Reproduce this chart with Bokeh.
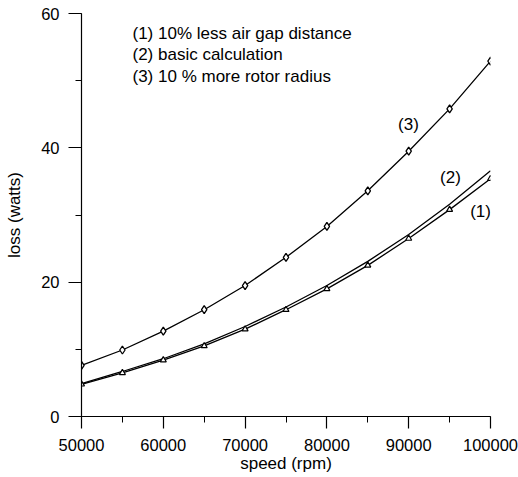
from bokeh.plotting import figure
from bokeh.models import SingleIntervalTicker, Range1d, Label, BasicTickFormatter
from bokeh.embed import file_html
from bokeh.resources import INLINE

# ---- data ----
speed = [50000, 55000, 60000, 65000, 70000, 75000, 80000, 85000, 90000, 95000, 100000]
loss_1 = [4.8, 6.5, 8.4, 10.5, 13.0, 15.9, 19.0, 22.5, 26.5, 30.8, 35.4]   # 10% less air gap distance
loss_2 = [4.9, 6.7, 8.6, 10.8, 13.4, 16.3, 19.5, 23.1, 27.1, 31.6, 36.6]   # basic calculation
loss_3 = [7.6, 9.9, 12.7, 15.9, 19.5, 23.7, 28.3, 33.6, 39.5, 45.8, 52.9]  # 10 % more rotor radius

legend_lines = ["(1)  10% less air gap distance",
                "(2)  basic calculation",
                "(3)  10 % more rotor radius"]
curve_tags = ["(1)", "(2)", "(3)"]

FONT = "Liberation Sans"

p = figure(width=518, height=477, output_backend="svg", toolbar_location=None,
           x_range=Range1d(50000, 100000), y_range=Range1d(0, 60),
           min_border_left=81, min_border_right=28, min_border_top=13, min_border_bottom=61)
p.outline_line_color = None
p.xgrid.visible = False
p.ygrid.visible = False
p.background_fill_color = "white"
p.border_fill_color = "white"

p.xaxis.ticker = SingleIntervalTicker(interval=10000, num_minor_ticks=2)
p.yaxis.ticker = SingleIntervalTicker(interval=20, num_minor_ticks=2)
p.xaxis.formatter = BasicTickFormatter(use_scientific=False)

for ax in (p.xaxis, p.yaxis):
    ax.axis_line_color = "black"
    ax.axis_line_width = 1.2
    ax.major_tick_line_color = "black"
    ax.minor_tick_line_color = "black"
    ax.major_tick_line_width = 1.2
    ax.minor_tick_line_width = 1
    ax.major_tick_in = 0
    ax.minor_tick_in = 0
    ax.major_label_text_font = FONT
    ax.major_label_text_font_size = "16.5px"
    ax.major_label_text_color = "black"
    ax.axis_label_text_font = FONT
    ax.axis_label_text_font_size = "17px"
    ax.axis_label_text_font_style = "normal"
    ax.axis_label_text_color = "black"

p.xaxis.major_tick_out = 12
p.xaxis.minor_tick_out = 6
p.xaxis.major_label_standoff = 10
p.xaxis.axis_label_standoff = 0
p.xaxis.axis_label = "speed (rpm)"

p.yaxis.major_tick_out = 13
p.yaxis.minor_tick_out = 6
p.yaxis.major_label_standoff = 9
p.yaxis.axis_label_standoff = 14
p.yaxis.axis_label = "loss (watts)"

# curves
p.line(speed, loss_2, line_color="black", line_width=1.3)
p.line(speed, loss_1, line_color="black", line_width=1.3)
p.line(speed, loss_3, line_color="black", line_width=1.3)
p.scatter(speed, loss_1, marker="triangle", size=6, fill_color="white",
          line_color="black", line_width=1.2)
p.scatter(speed, loss_3, marker="diamond", size=8, fill_color="white",
          line_color="black", line_width=1.3)

# legend text block
for txt, yv in zip(legend_lines, [57.0, 53.9, 50.6]):
    p.add_layout(Label(x=56235, y=yv, text=txt, text_font=FONT, text_font_size="17px",
                       text_color="black", text_baseline="middle", text_align="left",
                       level="overlay"))

# curve tags
for txt, xv, yv in zip(curve_tags, [98780, 95110, 89976], [30.5, 35.6, 43.5]):
    p.add_layout(Label(x=xv, y=yv, text=txt, text_font=FONT, text_font_size="17px",
                       text_color="black", text_baseline="middle", text_align="center",
                       level="overlay"))

open("out.html", "w").write(file_html(p, INLINE))
